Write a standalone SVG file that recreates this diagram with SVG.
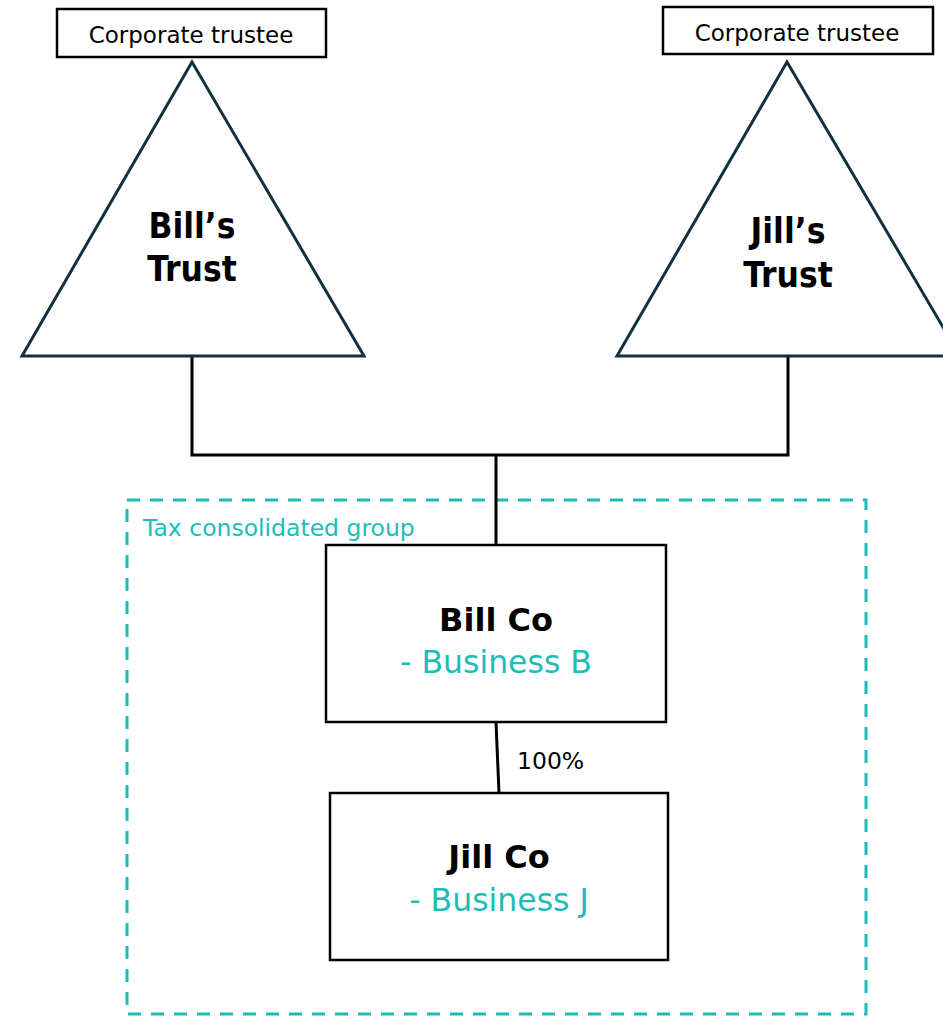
<svg xmlns="http://www.w3.org/2000/svg" width="943" height="1016" viewBox="0 0 943 1016">
  <style>
    text { font-family: "DejaVu Sans", "Liberation Sans", sans-serif; }
    .box { fill: #ffffff; stroke: #000000; stroke-width: 2.5; }
    .tri { fill: #ffffff; stroke: #13303f; stroke-width: 3; stroke-linejoin: miter; }
    .wire { fill: none; stroke: #000000; stroke-width: 3; }
    .group { fill: none; stroke: #1bbdb9; stroke-width: 3; stroke-dasharray: 13 10; }
    .small { font-size: 23px; fill: #000000; text-anchor: middle; }
    .title { font-family: "DejaVu Sans Condensed", "DejaVu Sans", sans-serif; font-size: 35px; font-weight: bold; fill: #000000; text-anchor: middle; }
    .name { font-size: 32px; font-weight: bold; fill: #000000; text-anchor: middle; }
    .biz { font-size: 31.5px; fill: #1bbdb9; text-anchor: middle; }
  </style>
  <rect width="943" height="1016" fill="#ffffff"/>

  <!-- tax consolidated group boundary -->
  <g id="tax-group">
    <rect class="group" x="127" y="500" width="739" height="514"/>
    <text x="143" y="536" font-size="23.5" fill="#1bbdb9">Tax consolidated group</text>
  </g>

  <!-- connectors -->
  <g id="connectors">
    <polyline class="wire" points="192,356 192,455 788,455 788,356"/>
    <line class="wire" x1="496" y1="455" x2="496" y2="545"/>
    <line class="wire" x1="496" y1="722" x2="499" y2="793" stroke-width="2.5"/>
    <text x="517" y="769" font-size="23.5" fill="#000000">100%</text>
  </g>

  <g id="bills-trust">
    <rect class="box" x="57" y="9" width="269" height="48"/>
    <text class="small" x="191" y="43">Corporate trustee</text>
    <polygon class="tri" points="192,62 364,356 22,356"/>
    <text class="title" x="192" y="238">Bill’s</text>
    <text class="title" x="192" y="281">Trust</text>
  </g>

  <g id="jills-trust">
    <rect class="box" x="663" y="7" width="270" height="47"/>
    <text class="small" x="797" y="41">Corporate trustee</text>
    <polygon class="tri" points="787,62 960,356 617,356"/>
    <text class="title" x="788" y="243">Jill’s</text>
    <text class="title" x="788" y="287">Trust</text>
  </g>

  <g id="bill-co">
    <rect class="box" x="326" y="545" width="340" height="177"/>
    <text class="name" x="496" y="631">Bill Co</text>
    <text class="biz" x="496" y="673">- Business B</text>
  </g>

  <g id="jill-co">
    <rect class="box" x="330" y="793" width="338" height="167"/>
    <text class="name" x="499" y="868">Jill Co</text>
    <text class="biz" x="499" y="911">- Business J</text>
  </g>
</svg>
